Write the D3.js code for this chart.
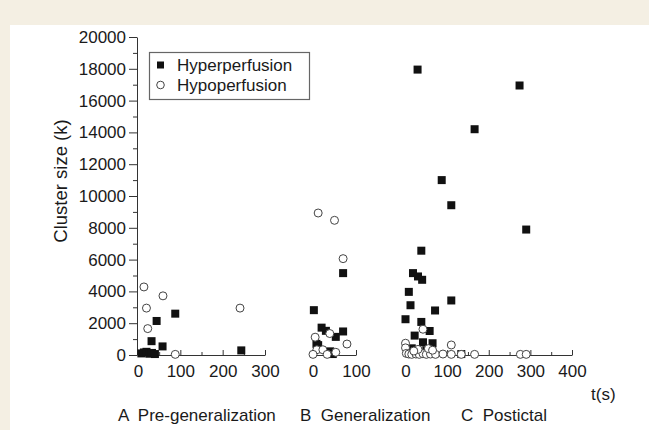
<!DOCTYPE html>
<html>
<head>
<meta charset="utf-8">
<script src="https://cdn.jsdelivr.net/npm/d3@7"></script>
<style>
  body { margin: 0; background: #f4efe3; }
  text { font-family: "Liberation Sans", Arial, sans-serif; fill: #1a1a1a; }
  .axis path, .axis line { stroke: #333; stroke-width: 1; }
  .axis text { font-size: 17px; fill: #1a1a1a; }
</style>
</head>
<body>
<svg id="chart" width="649" height="430"></svg>
<script>

// [t (s), cluster size (k)]
var hyperA = [[8, 100], [14, 160], [20, 200], [27, 80], [33, 130], [40, 60],
              [32, 870], [58, 540], [44, 2140], [88, 2600], [244, 290]];
var hypoA  = [[14, 4280], [20, 2950], [59, 3720], [23, 1660], [88, 40], [241, 2950]];

var hyperB = [[2, 2820], [70, 5150], [20, 1720], [30, 1520], [53, 1140], [70, 1480],
              [8, 700], [12, 620], [40, 230], [46, 60]];
var hypoB  = [[12, 8930], [50, 8470], [70, 6060], [79, 690], [5, 1120], [39, 1350],
              [9, 330], [0, 40], [23, 330], [33, 40], [53, 170]];

var hyperC = [[29, 17950], [274, 16950], [166, 14200], [87, 11000], [110, 9420], [290, 7890],
              [38, 6560], [18, 5150], [30, 4940], [40, 4730], [8, 3970], [12, 3130],
              [110, 3430], [71, 2800], [0, 2250], [38, 2080], [58, 1510], [22, 1220],
              [42, 800], [65, 740], [15, 420], [28, 200], [50, 300], [134, 60]];
var hypoC  = [[42, 1620], [110, 630], [0, 740], [0, 450], [2, 100], [8, 60], [15, 40],
              [25, 60], [33, 40], [42, 80], [50, 40], [60, 60], [72, 40], [90, 60],
              [110, 40], [134, 40], [166, 40], [276, 40], [290, 40], [30, 350],
              [55, 400], [65, 300], [20, 250]];

var yTicks = d3.range(0, 20001, 2000);
var yMinor = d3.range(1000, 20000, 2000);

var panels = [
  { name: 'A', label: 'Pre-generalization', max: 300, x0: 138,   x1: 265, hyper: hyperA, hypo: hypoA, lx: 118 },
  { name: 'B', label: 'Generalization',     max: 100, x0: 313,   x1: 356, hyper: hyperB, hypo: hypoB, lx: 300 },
  { name: 'C', label: 'Postictal',          max: 400, x0: 405.5, x1: 572, hyper: hyperC, hypo: hypoC, lx: 461 }
];

var svg = d3.select('#chart');

svg.append('rect')
    .attr('x', 10)
    .attr('y', 25)
    .attr('width', 639)
    .attr('height', 405)
    .attr('fill', '#fff')
;

var y = d3.scaleLinear()
    .domain([0, 20000])
    .range([355, 37]);

svg.append('g')
    .attr('class', 'axis')
    .attr('transform', 'translate(137,0)')
    .call(d3.axisLeft(y).tickValues(yTicks).tickSize(8).tickSizeOuter(0).tickPadding(3).tickFormat(d3.format('d')))
;

svg.append('g')
    .attr('class', 'axis')
    .attr('transform', 'translate(137,0)')
    .call(d3.axisLeft(y).tickValues(yMinor).tickSize(4).tickFormat(''))
    .select('.domain').remove()
;

svg.append('text')
    .attr('transform', 'translate(67,181) rotate(-90)')
    .attr('text-anchor', 'middle')
    .style('font-size', '18.5px')
    .text('Cluster size (k)')
;

panels.forEach(function(p) {
  var x = d3.scaleLinear()
      .domain([0, p.max])
      .range([p.x0, p.x1]);

  var g = svg.append('g');

  g.append('g')
      .attr('class', 'axis')
      .attr('transform', 'translate(0,355)')
      .call(d3.axisBottom(x).tickValues(d3.range(0, p.max + 1, 100)).tickSizeInner(-5).tickSizeOuter(0).tickPadding(10))
  ;

  g.append('g')
      .attr('class', 'axis')
      .attr('transform', 'translate(0,355)')
      .call(d3.axisBottom(x).tickValues(d3.range(50, p.max, 100)).tickSizeInner(-3).tickSizeOuter(0).tickFormat(''))
      .select('.domain').remove()
  ;

  g.selectAll('rect.hyper')
      .data(p.hyper)
    .enter().append('rect')
      .attr('class', 'hyper')
      .attr('x', function(d) { return x(d[0]) - 4; })
      .attr('y', function(d) { return y(d[1]) - 4; })
      .attr('width', 8)
      .attr('height', 8)
      .attr('fill', '#111')
  ;

  g.selectAll('circle.hypo')
      .data(p.hypo)
    .enter().append('circle')
      .attr('class', 'hypo')
      .attr('cx', function(d) { return x(d[0]); })
      .attr('cy', function(d) { return y(d[1]); })
      .attr('r', 4)
      .attr('fill', '#fff')
      .attr('stroke', '#444')
      .attr('stroke-width', 1)
  ;

  svg.append('text')
      .attr('x', p.lx)
      .attr('y', 421)
      .attr('xml:space', 'preserve')
      .style('font-size', '17px')
      .text(p.name + '  ' + p.label)
  ;
});

svg.append('text')
    .attr('x', 591)
    .attr('y', 400)
    .style('font-size', '17px')
    .text('t(s)')
;

// legend
var legend = svg.append('g');

legend.append('rect')
    .attr('x', 149.5)
    .attr('y', 52.5)
    .attr('width', 160)
    .attr('height', 47)
    .attr('fill', '#fff')
    .attr('stroke', '#666')
    .attr('stroke-width', 1.2)
;

legend.append('rect')
    .attr('x', 157)
    .attr('y', 61.5)
    .attr('width', 7)
    .attr('height', 7)
    .attr('fill', '#111')
;

legend.append('circle')
    .attr('cx', 160.5)
    .attr('cy', 85)
    .attr('r', 3.8)
    .attr('fill', '#fff')
    .attr('stroke', '#444')
;

legend.append('text')
    .attr('x', 177)
    .attr('y', 71)
    .style('font-size', '17px')
    .text('Hyperperfusion')
;

legend.append('text')
    .attr('x', 177)
    .attr('y', 91)
    .style('font-size', '17px')
    .text('Hypoperfusion')
;

</script>
</body>
</html>
